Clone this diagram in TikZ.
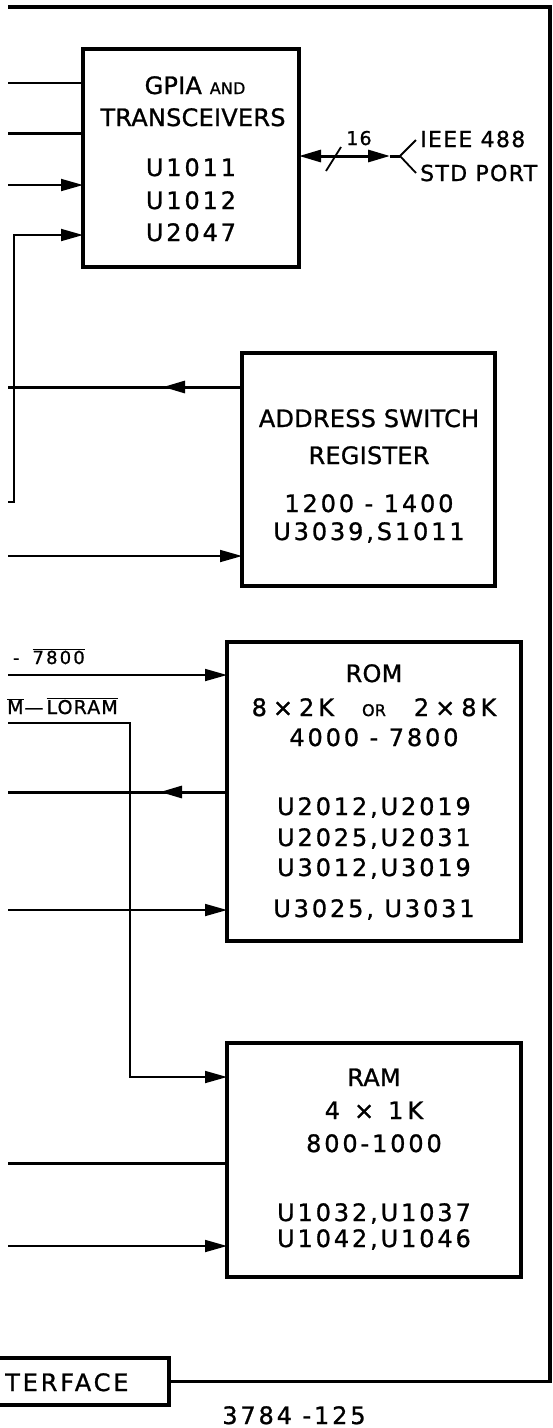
\documentclass[tikz,border=0pt]{standalone}
\usepackage{fontspec}
\setmainfont{DejaVu Sans}
\newfontfamily\lt{DejaVu Sans}[LetterSpace=1,FakeBold=1]
\newfontfamily\ls{DejaVu Sans}[LetterSpace=6,FakeBold=1]
\newfontfamily\nm{DejaVu Sans}[LetterSpace=12,FakeBold=1]
\usetikzlibrary{arrows.meta,decorations.markings}
\tikzset{
  box/.style={draw, line width=3.2pt, inner sep=0pt, outer sep=0pt},
  frame/.style={line width=3.4pt},
  sig/.style={line width=1.8pt},
  bus/.style={line width=3pt},
  arr/.style={-{Triangle[length=22pt,width=12pt]}},
  midarr/.style={postaction={decorate}, decoration={markings, mark=at position #1 with {\arrow{Triangle[length=22pt,width=12pt]}}}},
  lbl/.style={inner sep=0pt, anchor=base, font=\lt\fontsize{24}{28}\selectfont},
  num/.style={inner sep=0pt, anchor=base, font=\nm\fontsize{24}{28}\selectfont},
  port/.style={inner sep=0pt, anchor=base west, font=\ls\fontsize{22}{26}\selectfont},
  sl/.style={inner sep=0pt, anchor=base, font=\ls\fontsize{19}{22}\selectfont},
}
\newcommand{\smc}[1]{{\fontsize{16}{19}\selectfont #1}}
\begin{document}
\begin{tikzpicture}[x=1pt,y=-1pt]
\clip (0,0) rectangle (553,1428);
\fill[white] (0,0) rectangle (553,1428);

% boxes
\node[box, minimum width=216pt, minimum height=218pt] (gpia) at (191,158) {};
\node[box, minimum width=253pt, minimum height=233pt] (asr) at (368.5,469.5) {};
\node[box, minimum width=294pt, minimum height=299pt] (rom) at (374,791.5) {};
\node[box, minimum width=294pt, minimum height=234pt] (ram) at (374,1160) {};
\node[box, minimum width=189pt, minimum height=47pt] (iface) at (74.5,1381.5) {};

% texts
\node[lbl] (g1) at (195,94) {GPIA \smc{AND}};
\node[lbl] (g2) at (193,126) {TRANSCEIVERS};
\node[num] (g3) at (191,176) {U1011};
\node[num] (g4) at (191,209) {U1012};
\node[num] (g5) at (191,241) {U2047};

\node[lbl] (r1) at (369,427) {ADDRESS SWITCH};
\node[lbl] (r2) at (369,464) {REGISTER};
\node[num] (r3) at (369,512) {1200 - 1400};
\node[num] (r4) at (369,540) {U3039,S1011};

\node[lbl] (o1) at (374,682) {ROM};
\node[lbl] (o2) at (374,716) {8\hspace{6pt}×\hspace{6pt}2\hspace{4pt}K\hspace{28pt}\smc{OR}\hspace{28pt}2\hspace{6pt}×\hspace{6pt}8\hspace{4pt}K};
\node[num] (o3) at (374,746) {4000 - 7800};
\node[num] (o4) at (374,815) {U2012,U2019};
\node[num] (o5) at (374,846) {U2025,U2031};
\node[num] (o6) at (374,876) {U3012,U3019};
\node[num] (o7) at (374,917) {U3025, U3031};

\node[lbl] (m1) at (374,1086) {RAM};
\node[lbl] (m2) at (374,1119) {4\hspace{14pt}×\hspace{14pt}1\hspace{4pt}K};
\node[num] (m3) at (374,1152) {800-1000};
\node[num] (m4) at (374,1221) {U1032,U1037};
\node[num] (m5) at (374,1247) {U1042,U1046};

\node[port] (ieee1) at (420,147) {IEEE 488};
\node[port] (ieee2) at (420,181) {STD PORT};
\node[sl] (n16) at (359,145) {16};

\node[sl, anchor=base east, font=\nm\fontsize{18}{22}\selectfont] (lab1) at (85,664) {-\hspace{13pt}$\overline{\mbox{7800}}$};
\node[sl, anchor=base east] (lab2) at (118,714) {$\overline{\mbox{M}}$\hspace{1pt}—\hspace{3pt}$\overline{\mbox{LORAM}}$};
\node[num, anchor=base west] (ift) at (5,1391) {TERFACE};
\node[num, font=\nm\fontsize{24}{28}\selectfont] (fig) at (294,1424) {3784 -125};

% coordinates
\coordinate (a1) at (8,83);
\coordinate (a2) at (8,133);
\coordinate (a3) at (8,185);
\coordinate (a4) at (8,502);
\coordinate (a4c) at (14,502);
\coordinate (a4t) at (14,235);
\coordinate (fork) at (400,156);
\coordinate (rtip) at (390,156);
\coordinate (forkU) at (416,140);
\coordinate (forkD) at (416,173);
\coordinate (s1) at (326,171);
\coordinate (s2) at (341,147);
\coordinate (b1) at (8,387);
\coordinate (b2) at (8,556);
\coordinate (c1) at (8,675);
\coordinate (c2) at (8,723);
\coordinate (c2c) at (130,723);
\coordinate (c2d) at (130,1077);
\coordinate (c3) at (8,792);
\coordinate (c4) at (8,910);
\coordinate (d1) at (8,1163);
\coordinate (d2) at (8,1246);
\coordinate (f0) at (8,7);
\coordinate (f1) at (550,7);

% connectors
\draw[sig] (a1) -- (gpia.west |- a1);
\draw[bus] (a2) -- (gpia.west |- a2);
\draw[sig,arr] (a3) -- (gpia.west |- a3);
\draw[sig,arr] (a4) -- (a4c) -- (a4t) -- (gpia.west |- a4t);
\draw[bus,{Triangle[length=22pt,width=12pt]}-{Triangle[length=22pt,width=12pt]}] (gpia.east |- fork) -- (rtip);
\draw[bus] (rtip) -- (fork);
\draw[sig] (forkU) -- (fork) -- (forkD);
\draw[sig] (s1) -- (s2);

\draw[bus,midarr=79pt] (asr.west |- b1) -- (b1);
\draw[sig,arr] (b2) -- (asr.west |- b2);

\draw[sig,arr] (c1) -- (rom.west |- c1);
\draw[sig,arr] (c2) -- (c2c) -- (c2d) -- (ram.west |- c2d);
\draw[bus,midarr=67pt] (rom.west |- c3) -- (c3);
\draw[sig,arr] (c4) -- (rom.west |- c4);

\draw[bus] (ram.west |- d1) -- (d1);
\draw[sig,arr] (d2) -- (ram.west |- d2);

\draw[frame] (iface.east) -- (f1 |- iface.east) -- (f1) -- (f0);
\end{tikzpicture}
\end{document}
